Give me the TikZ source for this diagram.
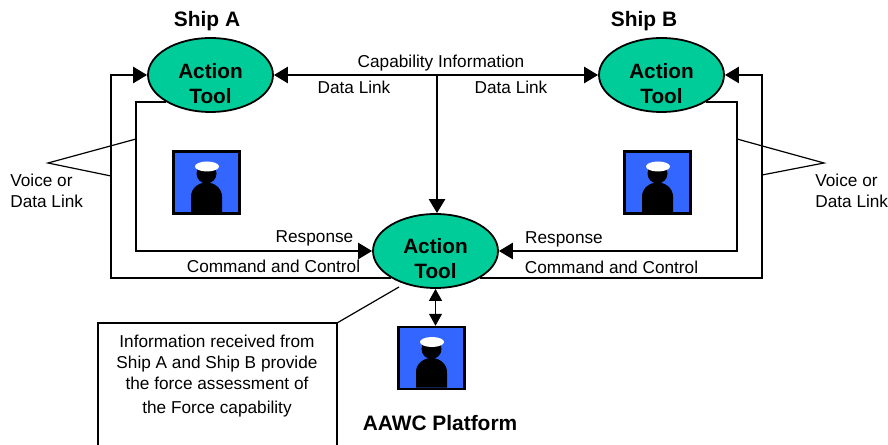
\documentclass[tikz,border=0pt]{standalone}
\usepackage{fontspec}
\setmainfont{Liberation Sans}
\usetikzlibrary{arrows.meta,shapes.geometric}
\definecolor{toolgreen}{HTML}{00CC99}
\definecolor{crewblue}{HTML}{3366FF}
\tikzset{
	tool/.style={ellipse, draw, fill=toolgreen, line width=0.036cm, minimum width=2.5cm, minimum height=1.48cm, inner sep=0pt},
	tooltext/.style={inner sep=0pt, align=center, font=\fontsize{11.8}{14.2}\selectfont\bfseries},
	portrait/.style={draw, fill=crewblue, line width=0.05cm, minimum width=1.32cm, minimum height=1.24cm, inner sep=0pt},
	link/.style={line width=0.05cm},
	linkto/.style={link, -{Triangle[length=0.28cm,width=0.32cm]}},
	linkboth/.style={link, {Triangle[length=0.28cm,width=0.32cm]}-{Triangle[length=0.28cm,width=0.32cm]}},
	thinboth/.style={line width=0.02cm, {Triangle[length=0.24cm,width=0.26cm]}-{Triangle[length=0.24cm,width=0.26cm]}},
	leader/.style={line width=0.024cm},
	label/.style={inner sep=0pt, align=left, font=\fontsize{9.8}{11.95}\selectfont},
	title/.style={inner sep=0pt, font=\fontsize{11.9}{13}\selectfont\bfseries}
}
\def\sailor(#1)#2{
	\node[portrait] (#2) at (#1) {};
	\begin{scope}[shift={(#1)}]
		\fill (-15.5, 29.5) -- (-15.5, 14) arc (180:360:15.5 and 14) -- (15.5, 29.5) -- cycle;
		\fill (0, -9) circle (10);
		\fill[white] (0.5, -16) ellipse (12 and 5);
	\end{scope}
}

\begin{document}
\begin{tikzpicture}[x=0.02cm, y=-0.02cm]
	%%%%% START %%%%%
	\useasboundingbox (0, 0) rectangle (888, 445);

	\node[tool] (shipA) at (210.5, 75) {};
	\node[tool] (shipB) at (661.5, 75) {};
	\node[tool] (center) at (435.5, 251) {};
	\node[tooltext] (toolA) at (210.5, 84) {Action\\Tool};
	\node[tooltext] (toolB) at (661.5, 84) {Action\\Tool};
	\node[tooltext] (toolC) at (435.5, 259) {Action\\Tool};

	\sailor(206.5, 182.5){crewA}
	\sailor(657.5, 182.5){crewB}
	\sailor(431.5, 358){crewC}

	\node[title] (titleA) at (207, 21) {Ship A};
	\node[title] (titleB) at (644, 21) {Ship B};
	\node[title] (titleC) at (440, 423) {AAWC Platform};

	\coordinate (outerA) at (111, 75);
	\coordinate (innerA) at (136, 251);
	\coordinate (outerB) at (762, 75);
	\coordinate (innerB) at (737, 251);
	\coordinate (linkMid) at (437, 75);

	% top links
	\draw[linkboth] (shipA.east) -- (shipB.west);
	\draw[linkto] (linkMid) -- (linkMid |- center.north);
	\draw[thinboth] (center.south) -- (crewC.north -| center.south);

	% ship A side
	\draw[linkto] (center.south west) -| (outerA) -- (shipA.west);
	\draw[linkto] (shipA.south west) -| (innerA) -- (center.west);

	% ship B side
	\draw[linkto] (center.south east) -| (outerB) -- (shipB.east);
	\draw[linkto] (shipB.south east) -| (innerB) -- (center.east);

	\node[label] (capability) at (441, 63) {Capability Information};
	\node[label] (dataA) at (354, 87) {Data Link};
	\node[label] (dataB) at (511, 87) {Data Link};
	\node[label] (responseA) at (314.5, 238) {Response};
	\node[label] (responseB) at (564, 239) {Response};
	\node[label] (commandA) at (273.5, 266) {Command and Control};
	\node[label] (commandB) at (611.5, 267) {Command and Control};

	% voice or data link leaders
	\node[label, anchor=north west] (voiceA) at (10, 174) {Voice or\\Data Link};
	\node[label, anchor=north west] (voiceB) at (815, 174) {Voice or\\Data Link};
	\coordinate (apexA) at (48, 163);
	\coordinate (apexB) at (824, 163);
	\draw[leader] (136, 139) -- (apexA) -- (111, 176);
	\draw[leader] (737, 139) -- (apexB) -- (762, 175);

	% callout
	\coordinate (boxTL) at (98, 323);
	\coordinate (boxTR) at (337, 323);
	\coordinate (calloutEnd) at (399, 287);
	\draw[leader] (98, 445) -- (boxTL) -- (boxTR) -- (337, 445);
	\draw[leader] (boxTR) -- (calloutEnd);
	\node[label, align=center] (info) at (217, 376) {Information received from\\Ship A and Ship B provide\\the force assessment of\\[2.2pt]the Force capability};
	%%%%% END %%%%%
\end{tikzpicture}
\end{document}
